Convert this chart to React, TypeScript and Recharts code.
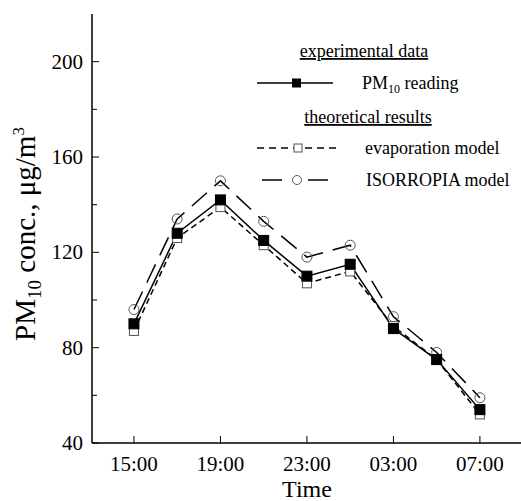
import React from 'react';
import { LineChart, Line, XAxis, YAxis, Customized } from 'recharts';

// hours after 15:00
const timeOffsets = [0, 2, 4, 6, 8, 10, 12, 14, 16];
const pm10Reading = [90, 128, 142, 125, 110, 115, 88, 75, 54];
const evaporationModel = [87, 126, 139, 123, 107, 112, 89, 75, 52];
const isorropiaModel = [96, 134, 150, 133, 118, 123, 93, 78, 59];

const xTickValues = [0, 4, 8, 12, 16];
const xTickLabels = ['15:00', '19:00', '23:00', '03:00', '07:00'];
const yTickValues = [40, 60, 80, 100, 120, 140, 160, 180, 200];
const yLabelValues = [40, 80, 120, 160, 200];

const data = timeOffsets.map((t, i) => ({
  t,
  pm10: pm10Reading[i],
  evap: evaporationModel[i],
  iso: isorropiaModel[i],
}));

const FONT = '"Liberation Serif", "Times New Roman", serif';

const YTick = (props: any) => {
  const { x, y, payload } = props;
  const major = yLabelValues.includes(payload.value);
  const ax = x + 9;
  return (
    <g>
      <line x1={ax} x2={ax + (major ? 7 : 5)} y1={y} y2={y} stroke="#000" strokeWidth={1} />
      {major && (
        <text x={x} y={y + 7} textAnchor="end" style={{ fontFamily: FONT, fontSize: 21 }} fill="#000">
          {payload.value}
        </text>
      )}
    </g>
  );
};

const XTick = (props: any) => {
  const { x, y, payload } = props;
  const ay = y - 8;
  const idx = xTickValues.indexOf(payload.value);
  return (
    <g>
      <line x1={x} x2={x} y1={ay} y2={ay - 7} stroke="#000" strokeWidth={1} />
      <text x={x} y={471} textAnchor="middle" style={{ fontFamily: FONT, fontSize: 21 }} fill="#000">
        {idx >= 0 ? xTickLabels[idx] : ''}
      </text>
    </g>
  );
};

const FilledSquare = (props: any) => {
  const { cx, cy, index } = props;
  if (cx == null || cy == null) return <g key={index} />;
  return <rect key={index} x={cx - 5} y={cy - 5} width={10} height={10} fill="#000" stroke="#000" />;
};

const OpenSquare = (props: any) => {
  const { cx, cy, index } = props;
  if (cx == null || cy == null) return <g key={index} />;
  return <rect key={index} x={cx - 4.5} y={cy - 4.5} width={9} height={9} fill="#fff" stroke="#555" strokeWidth={1} />;
};

const OpenCircle = (props: any) => {
  const { cx, cy, index } = props;
  if (cx == null || cy == null) return <g key={index} />;
  return <circle key={index} cx={cx} cy={cy} r={5} fill="none" stroke="#555" strokeWidth={1} />;
};

const Overlay = () => (
  <g style={{ fontFamily: FONT }} fill="#000">
    {/* y axis label */}
    <text
      x={35}
      y={234}
      textAnchor="middle"
      fontSize={29}
      transform="rotate(-90 35 234)"
    >
      PM<tspan fontSize={19} dy={6}>10</tspan>
      <tspan dy={-6}> conc., μg/m</tspan>
      <tspan fontSize={17} dy={-11}>3</tspan>
    </text>
    {/* x axis label */}
    <text x={307} y={497} textAnchor="middle" fontSize={24}>Time</text>

    {/* legend */}
    <text x={364} y={57} textAnchor="middle" fontSize={18} style={{ textDecoration: 'underline' }}>
      experimental data
    </text>
    <line x1={257} x2={333} y1={83} y2={83} stroke="#000" strokeWidth={1.5} />
    <rect x={292} y={78.5} width={9} height={9} fill="#000" />
    <text x={362} y={89} fontSize={18}>
      PM<tspan fontSize={12} dy={4}>10</tspan>
      <tspan dy={-4}> reading</tspan>
    </text>

    <text x={368} y={123} textAnchor="middle" fontSize={18} style={{ textDecoration: 'underline' }}>
      theoretical results
    </text>
    <line x1={257} x2={336} y1={148} y2={148} stroke="#000" strokeWidth={1.5} strokeDasharray="7 5" />
    <rect x={294} y={144} width={8} height={8} fill="#fff" stroke="#555" />
    <text x={365} y={154} fontSize={18}>evaporation model</text>

    <line x1={262} x2={282} y1={180} y2={180} stroke="#000" strokeWidth={1.5} />
    <line x1={308} x2={328} y1={180} y2={180} stroke="#000" strokeWidth={1.5} />
    <circle cx={297} cy={180} r={4.5} fill="none" stroke="#555" />
    <text x={366} y={186} fontSize={18}>ISORROPIA model</text>
  </g>
);

export default function App() {
  return (
    <div style={{ position: 'absolute', left: 0, top: 0, width: 521, height: 501, background: '#fff' }}>
      <LineChart
        width={521}
        height={501}
        data={data}
        margin={{ top: 14, right: 0, bottom: 0, left: 0 }}
      >
        <XAxis
          xAxisId="top"
          orientation="top"
          dataKey="t"
          type="number"
          domain={[-1.94, 17.9]}
          height={0}
          tick={false}
          tickLine={false}
          axisLine={{ stroke: '#000', strokeWidth: 1.5 }}
        />
        <XAxis
          dataKey="t"
          type="number"
          domain={[-1.94, 17.9]}
          ticks={xTickValues}
          height={58}
          tickSize={0}
          tickMargin={8}
          tickLine={false}
          tick={<XTick />}
          axisLine={{ stroke: '#000', strokeWidth: 1.5 }}
          interval={0}
        />
        <YAxis
          type="number"
          domain={[40, 220]}
          ticks={yTickValues}
          width={92}
          tickSize={0}
          tickMargin={9}
          tickLine={false}
          tick={<YTick />}
          axisLine={{ stroke: '#000', strokeWidth: 1.5 }}
          interval={0}
        />
        <Line
          dataKey="iso"
          stroke="#000"
          strokeWidth={1.5}
          strokeDasharray="20 10"
          dot={<OpenCircle />}
          isAnimationActive={false}
        />
        <Line
          dataKey="evap"
          stroke="#000"
          strokeWidth={1.5}
          strokeDasharray="6 4"
          dot={<OpenSquare />}
          isAnimationActive={false}
        />
        <Line
          dataKey="pm10"
          stroke="#000"
          strokeWidth={1.5}
          dot={<FilledSquare />}
          isAnimationActive={false}
        />
        <Customized component={<Overlay />} />
      </LineChart>
    </div>
  );
}
